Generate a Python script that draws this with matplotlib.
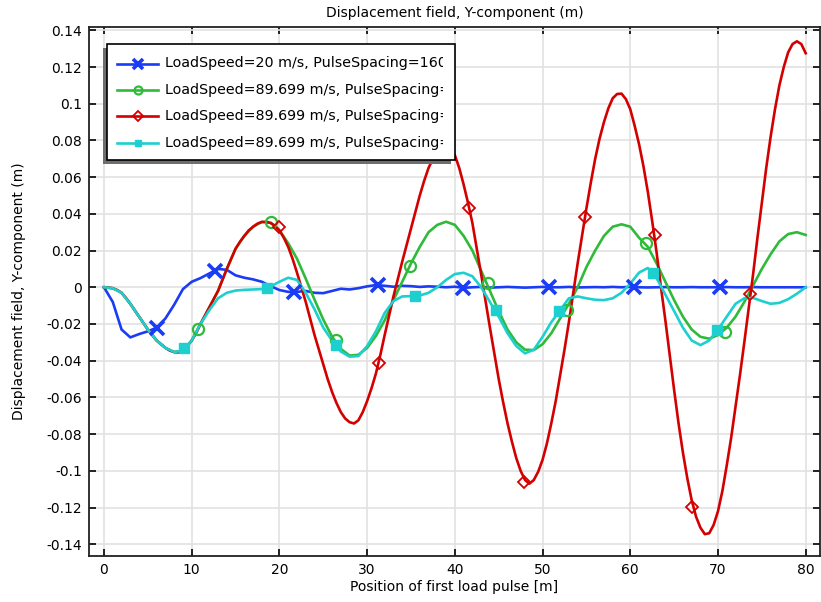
import matplotlib
matplotlib.use("Agg")
import matplotlib.pyplot as plt
from matplotlib.patches import Rectangle
from matplotlib.lines import Line2D
from matplotlib.ticker import MultipleLocator, FuncFormatter
from matplotlib.transforms import Bbox, TransformedBbox

plt.rcParams['font.family'] = ['DejaVu Sans']
plt.rcParams['axes.unicode_minus'] = False

# position of first load pulse [m]
x = list(range(0, 81))
x_red = [i * 0.5 for i in range(161)]

blue_y = [0, -0.008, -0.023, -0.0273, -0.0255, -0.024, -0.022, -0.017, -0.0095, -0.001,
          0.003, 0.005, 0.0075, 0.010, 0.0095, 0.0065, 0.0052, 0.0043, 0.003, 0.0006,
          -0.0015, -0.0025, -0.0025, -0.002, -0.003, -0.0032, -0.002, -0.0008, -0.0012, -0.0005,
          0.0005, 0.0012, 0.0008, 0.0003, 0.0008, 0.0006, 0.0002, 0.0005, 0.0003, 0.0,
          0.0003, -0.0003, 0.0, 0.0002, -0.0002, 0.0, 0.0002, 0.0, -0.0002, 0.0,
          0.0002, 0.0, 0.0, 0.0002, -0.0001, 0.0, 0.0001, 0.0, 0.0002, 0.0,
          0.0002, 0.0, -0.0001, 0.0, 0.0001, 0.0, 0.0, 0.0001, 0.0, 0.0,
          0.0, 0.0001, 0.0, 0.0, 0.0001, 0.0, 0.0, 0.0, 0.0, 0.0, 0.0]

green_y = [0, -0.0005, -0.003, -0.009, -0.016, -0.023, -0.029, -0.033, -0.0353, -0.0345,
           -0.029, -0.020, -0.011, -0.002, 0.010, 0.021, 0.028, 0.033, 0.0356, 0.0352,
           0.031, 0.024, 0.0156, 0.0047, -0.0067, -0.0176, -0.0269, -0.0336, -0.0372, -0.0368,
           -0.033, -0.0265, -0.018, -0.007, 0.003, 0.013, 0.022, 0.030, 0.034, 0.0357,
           0.034, 0.028, 0.020, 0.009, -0.002, -0.013, -0.023, -0.030, -0.034, -0.0342,
           -0.031, -0.025, -0.017, -0.009, 0.000, 0.011, 0.020, 0.028, 0.033, 0.0343,
           0.033, 0.027, 0.022, 0.013, 0.003, -0.007, -0.016, -0.023, -0.027, -0.028,
           -0.026, -0.022, -0.016, -0.008, 0.001, 0.010, 0.018, 0.025, 0.029, 0.030, 0.0285]

red_y = [0, -0.0002, -0.0005, -0.0015, -0.003, -0.0058, -0.009, -0.0125, -0.016, -0.0195,
         -0.023, -0.026, -0.029, -0.031, -0.033, -0.0345, -0.0353, -0.0355, -0.0345, -0.032,
         -0.029, -0.025, -0.020, -0.0155, -0.011, -0.0065, -0.002, 0.004, 0.010, 0.0155,
         0.021, 0.0248, 0.028, 0.031, 0.033, 0.0347, 0.0356, 0.0356, 0.035, 0.0335,
         0.031, 0.027, 0.022, 0.0155, 0.008, 0.0, -0.008, -0.017, -0.026, -0.034,
         -0.042, -0.050, -0.057, -0.063, -0.068, -0.0715, -0.0735, -0.0742, -0.0725, -0.068,
         -0.062, -0.055, -0.047, -0.037, -0.026, -0.0155, -0.005, 0.0045, 0.014, 0.023,
         0.032, 0.041, 0.050, 0.058, 0.065, 0.070, 0.074, 0.0765, 0.077, 0.0755,
         0.072, 0.065, 0.056, 0.046, 0.035, 0.021, 0.007, -0.0075, -0.022, -0.036,
         -0.050, -0.0625, -0.074, -0.084, -0.093, -0.100, -0.105, -0.107, -0.105, -0.1005,
         -0.094, -0.085, -0.074, -0.062, -0.048, -0.034, -0.019, -0.003, 0.013, 0.028,
         0.043, 0.057, 0.070, 0.081, 0.090, 0.0975, 0.103, 0.1053, 0.1055, 0.1025,
         0.097, 0.088, 0.078, 0.066, 0.052, 0.036, 0.019, 0.000, -0.018, -0.037,
         -0.056, -0.074, -0.090, -0.104, -0.116, -0.125, -0.131, -0.1345, -0.134, -0.1295,
         -0.122, -0.111, -0.097, -0.082, -0.065, -0.048, -0.030, -0.0115, 0.007, 0.027,
         0.046, 0.065, 0.082, 0.097, 0.110, 0.120, 0.128, 0.1325, 0.134, 0.1325,
         0.1275]

cyan_y = [0, -0.0005, -0.003, -0.009, -0.016, -0.023, -0.029, -0.033, -0.0353, -0.0345,
          -0.029, -0.020, -0.0125, -0.006, -0.003, -0.0018, -0.0014, -0.0012, -0.001, 0.0005,
          0.003, 0.0052, 0.004, -0.003, -0.012, -0.022, -0.029, -0.035, -0.0378, -0.0375,
          -0.032, -0.024, -0.014, -0.0075, -0.005, -0.0048, -0.0045, -0.003, 0.000, 0.004,
          0.0072, 0.0079, 0.006, 0.000, -0.008, -0.016, -0.025, -0.032, -0.036, -0.034,
          -0.027, -0.019, -0.0125, -0.006, -0.005, -0.006, -0.0068, -0.007, -0.006, -0.003,
          0.002, 0.008, 0.0105, 0.005, -0.004, -0.013, -0.022, -0.029, -0.0315, -0.029,
          -0.023, -0.016, -0.009, -0.006, -0.0058, -0.0075, -0.009, -0.0085, -0.0065, -0.0035, 0.0]

# marker positions
blue_mx = [6.0, 12.6, 21.7, 31.2, 40.9, 50.7, 60.4, 70.2]
blue_my = [-0.022, 0.009, -0.0024, 0.0012, -0.0003, 0.0003, 0.0003, 0.0]
green_mx = [10.75, 19.0, 26.5, 34.9, 43.8, 52.8, 61.8, 70.8]
green_my = [-0.023, 0.0354, -0.0288, 0.0117, 0.0021, -0.0125, 0.0239, -0.0243]
red_mx = [19.9, 31.3, 41.65, 47.9, 54.8, 62.8, 67.05, 73.6]
red_my = [0.0327, -0.041, 0.043, -0.1063, 0.0384, 0.0284, -0.1196, -0.0039]
cyan_mx = [9.16, 18.6, 26.5, 35.4, 44.7, 51.9, 62.6, 69.9]
cyan_my = [-0.0333, -0.0006, -0.0315, -0.0048, -0.0124, -0.0128, 0.0079, -0.0233]

labels = ['LoadSpeed=20 m/s, PulseSpacing=160 m',
          'LoadSpeed=89.699 m/s, PulseSpacing=20 m',
          'LoadSpeed=89.699 m/s, PulseSpacing=40 m',
          'LoadSpeed=89.699 m/s, PulseSpacing=80 m']

c_blue = '#1a3cf5'
c_green = '#2fba3a'
c_red = '#d40000'
c_cyan = '#1ecfcf'

series = [
    (x, blue_y, blue_mx, blue_my, c_blue, dict(marker='x', markersize=9.5, mew=2.6, mfc=c_blue)),
    (x, green_y, green_mx, green_my, c_green, dict(marker='o', markersize=8, mew=1.6, mfc='none')),
    (x_red, red_y, red_mx, red_my, c_red, dict(marker='D', markersize=6.5, mew=1.3, mfc='none')),
    (x, cyan_y, cyan_mx, cyan_my, c_cyan, dict(marker='s', markersize=6.5, mew=1.0, mfc=c_cyan)),
]

W, H = 821, 602
fig = plt.figure(figsize=(W / 100, H / 100), dpi=100)
ax = fig.add_axes([89 / W, 1 - 556 / H, (820 - 89) / W, (556 - 27) / H])

for xx, yy, mx, my, col, mk in series:
    ax.plot(xx, yy, color=col, lw=1.9, zorder=3)
    ax.plot(mx, my, linestyle='none', color=col, mec=col, zorder=4, **mk)

ax.set_xlim(-1.71, 81.63)
ax.set_ylim(-0.1464, 0.1418)
ax.xaxis.set_major_locator(MultipleLocator(10))
ax.yaxis.set_major_locator(MultipleLocator(0.02))
ax.yaxis.set_major_formatter(FuncFormatter(lambda v, p: '%g' % round(v, 4)))
ax.grid(True, color='#e2e2e2', lw=1.2, zorder=0)
ax.set_axisbelow(True)
ax.tick_params(direction='in', length=5, width=1.2, top=True, right=True,
               labelsize=10, colors='black', pad=5)
for s in ax.spines.values():
    s.set_linewidth(1.3)
    s.set_color('#222222')

ax.set_title('Displacement field, Y-component (m)', fontsize=10, pad=7)
ax.set_xlabel('Position of first load pulse [m]', fontsize=10, labelpad=2)
ax.set_ylabel('Displacement field, Y-component (m)', fontsize=10, labelpad=15)

# legend drawn by hand so the long labels get cut at the box edge
def fx(px):
    return px / W

def fy(py):
    return 1 - py / H

tf = fig.transFigure
shadow = Rectangle((fx(103), fy(164)), fx(451) - fx(103), fy(48) - fy(164),
                   transform=tf, facecolor='#6e6e6e', edgecolor='none', zorder=10, clip_on=False)
box = Rectangle((fx(107), fy(160)), fx(455) - fx(107), fy(44) - fy(160),
                transform=tf, facecolor='white', edgecolor='black', lw=1.2, zorder=11, clip_on=False)
ax.add_artist(shadow)
ax.add_artist(box)

cb = TransformedBbox(Bbox([[fx(107), fy(160)], [fx(443), fy(44)]]), tf)

rows = [63.5, 90, 116, 142.5]
for (xx, yy, mx, my, col, mk), lab, ry in zip(series, labels, rows):
    ln = Line2D([fx(117), fx(158)], [fy(ry), fy(ry)], transform=tf, color=col, lw=1.9,
                zorder=12, clip_on=False)
    ax.add_artist(ln)
    mkd = dict(mk)
    mkd['markersize'] = mkd['markersize'] * 0.72
    pt = Line2D([fx(137.5)], [fy(ry)], transform=tf, linestyle='none', color=col, mec=col,
                zorder=13, clip_on=False, **mkd)
    ax.add_artist(pt)
    t = fig.text(fx(165), fy(ry), lab, fontsize=10.3, va='center', ha='left', zorder=14)
    t.set_clip_box(cb)
    t.set_clip_on(True)

fig.savefig('out.png', dpi=100)
